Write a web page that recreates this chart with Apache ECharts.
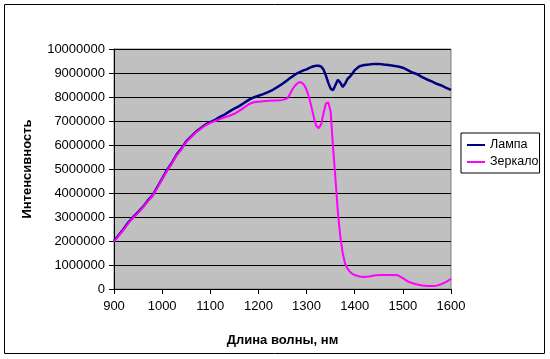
<!DOCTYPE html>
<html>
<head>
<meta charset="utf-8">
<script src="https://cdn.jsdelivr.net/npm/echarts@6/dist/echarts.min.js"></script>
<style>
html,body{margin:0;padding:0;background:#fff;}
#chart{width:550px;height:359px;}
</style>
</head>
<body>
<div id="chart"></div>
<script>
// wavelength, nm
var wavelengths = [900,910,920,930,940,950,960,970,980,990,1000,1010,1020,1030,1040,1050,1060,1070,1080,1090,1100,1110,1120,1130,1140,1150,1160,1170,1180,1190,1200,1210,1220,1230,1240,1250,1260,1265,1270,1275,1280,1285,1290,1295,1300,1305,1310,1315,1320,1325,1330,1335,1340,1345,1350,1355,1360,1365,1370,1375,1380,1385,1390,1395,1400,1410,1420,1430,1440,1450,1460,1470,1480,1490,1500,1510,1520,1530,1540,1550,1560,1570,1580,1590,1600];
// intensity, millions
var lampM = [2.0,2.25,2.5,2.78,3.0,3.2,3.42,3.68,3.9,4.25,4.6,4.95,5.25,5.6,5.85,6.15,6.35,6.55,6.7,6.85,6.95,7.05,7.17,7.27,7.4,7.52,7.62,7.75,7.88,7.98,8.05,8.12,8.2,8.3,8.42,8.55,8.7,8.78,8.85,8.92,8.98,9.03,9.08,9.12,9.15,9.2,9.25,9.28,9.3,9.3,9.27,9.15,8.9,8.6,8.35,8.28,8.5,8.72,8.6,8.42,8.55,8.75,8.85,8.97,9.12,9.28,9.33,9.35,9.38,9.38,9.35,9.33,9.3,9.27,9.22,9.12,9.02,8.95,8.83,8.73,8.65,8.55,8.48,8.38,8.3];
var mirrorM = [1.97,2.22,2.47,2.75,2.97,3.17,3.4,3.65,3.88,4.22,4.57,4.92,5.22,5.57,5.82,6.12,6.32,6.52,6.67,6.82,6.92,7.0,7.08,7.15,7.22,7.3,7.42,7.56,7.7,7.78,7.8,7.82,7.84,7.85,7.85,7.88,7.95,8.1,8.3,8.45,8.55,8.62,8.6,8.5,8.3,8.0,7.6,7.15,6.8,6.7,6.85,7.3,7.72,7.78,7.4,5.9,4.6,3.2,2.2,1.5,1.05,0.85,0.72,0.63,0.58,0.52,0.5,0.52,0.56,0.58,0.58,0.58,0.58,0.57,0.45,0.32,0.24,0.19,0.15,0.13,0.13,0.14,0.2,0.3,0.42];
var seriesNames = ['Лампа','Зеркало'];
var xTitle = 'Длина волны, нм';
var yTitle = 'Интенсивность';
var MILLION = 1000000;

function pairs(vals){
  return wavelengths.map(function(w,i){ return [w, vals[i]*MILLION]; });
}

var chart = echarts.init(document.getElementById('chart'), null, {renderer:'canvas'});
var font = 'Liberation Sans, Arial, sans-serif';
chart.setOption({
  animation:false,
  backgroundColor:'#ffffff',
  textStyle:{fontFamily:font,color:'#000'},
  grid:{left:114,right:99,top:49,bottom:70,show:true,backgroundColor:'#c0c0c0',borderColor:'#808080',borderWidth:1},
  xAxis:{
    type:'value',min:900,max:1600,interval:100,
    name:xTitle,nameLocation:'middle',nameGap:45,
    nameTextStyle:{fontFamily:font,fontSize:13,fontWeight:'bold',color:'#000'},
    axisLine:{show:true,onZero:false,lineStyle:{color:'#000',width:1}},
    axisTick:{show:true,inside:false,length:5,lineStyle:{color:'#000'}},
    axisLabel:{margin:11,fontFamily:font,fontSize:13,color:'#000',formatter:function(v){return String(v);}},
    splitLine:{show:false}
  },
  yAxis:{
    type:'value',min:0,max:10000000,interval:1000000,
    name:yTitle,nameLocation:'middle',nameGap:80,
    nameTextStyle:{fontFamily:font,fontSize:13,fontWeight:'bold',color:'#000'},
    axisLine:{show:true,lineStyle:{color:'#000',width:1}},
    axisTick:{show:true,inside:false,length:5,lineStyle:{color:'#000'}},
    axisLabel:{margin:9,fontFamily:font,fontSize:13,color:'#000',formatter:function(v){return String(v);}},
    splitLine:{show:true,lineStyle:{color:'#000',width:1}}
  },
  legend:{
    orient:'vertical',left:461,top:133,
    padding:[5,1,4,6],itemGap:3,itemWidth:18,itemHeight:2,
    borderColor:'#000',borderWidth:1,backgroundColor:'#fff',
    textStyle:{fontFamily:font,fontSize:12.5,color:'#000',lineHeight:14},
    data:[{name:seriesNames[0],icon:'rect',itemStyle:{color:'#000080'}},{name:seriesNames[1],icon:'rect',itemStyle:{color:'#ff00ff'}}]
  },
  graphic:[{type:'rect',shape:{x:4.5,y:4.5,width:540,height:349},style:{fill:null,stroke:'#000',lineWidth:1},silent:true}],
  series:[
    {name:seriesNames[0],type:'line',symbol:'none',data:pairs(lampM),lineStyle:{color:'#000080',width:2.5},itemStyle:{color:'#000080'},z:2},
    {name:seriesNames[1],type:'line',symbol:'none',data:pairs(mirrorM),lineStyle:{color:'#ff00ff',width:2},itemStyle:{color:'#ff00ff'},z:3}
  ]
});
</script>
</body>
</html>
